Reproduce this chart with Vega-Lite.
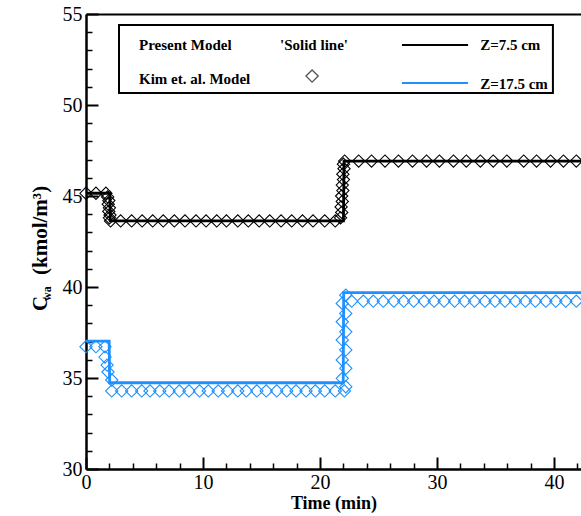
{
  "$schema": "https://vega.github.io/schema/vega-lite/v6.json",
  "autosize": "none",
  "padding": {"left": 86, "top": 14, "right": 0, "bottom": 47},
  "width": 495,
  "height": 455,
  "background": "white",
  "config": {
    "font": "'Liberation Serif', 'Times New Roman', Times, 'DejaVu Serif', serif",
    "view": {"stroke": null},
    "text": {"font": "'Liberation Serif', 'Times New Roman', Times, 'DejaVu Serif', serif"},
    "axis": {"domainColor": "black", "tickColor": "black", "labelColor": "black", "titleColor": "black", "labelFont": "'Liberation Serif', 'Times New Roman', Times, 'DejaVu Serif', serif", "titleFont": "'Liberation Serif', 'Times New Roman', Times, 'DejaVu Serif', serif", "grid": false, "labelFlush": false}
  },
  "datasets": {
    "model": [
      {"series": "Z=7.5 cm", "t": 0, "c": 45.15},
      {"series": "Z=7.5 cm", "t": 2.03, "c": 45.15},
      {"series": "Z=7.5 cm", "t": 2.08, "c": 43.63},
      {"series": "Z=7.5 cm", "t": 22.0, "c": 43.63},
      {"series": "Z=7.5 cm", "t": 22.05, "c": 46.92},
      {"series": "Z=7.5 cm", "t": 42.3, "c": 46.92},
      {"series": "Z=17.5 cm", "t": 0, "c": 37.03},
      {"series": "Z=17.5 cm", "t": 1.98, "c": 37.03},
      {"series": "Z=17.5 cm", "t": 2.02, "c": 34.74},
      {"series": "Z=17.5 cm", "t": 21.98, "c": 34.74},
      {"series": "Z=17.5 cm", "t": 22.02, "c": 39.69},
      {"series": "Z=17.5 cm", "t": 42.3, "c": 39.69}
    ],
    "kim": [
      {"series": "Z=7.5 cm", "t": 0, "c": 45.15},
      {"series": "Z=7.5 cm", "t": 0.85, "c": 45.15},
      {"series": "Z=7.5 cm", "t": 1.7, "c": 45.15},
      {"series": "Z=7.5 cm", "t": 1.85, "c": 44.95},
      {"series": "Z=7.5 cm", "t": 1.95, "c": 44.75},
      {"series": "Z=7.5 cm", "t": 1.9, "c": 44.55},
      {"series": "Z=7.5 cm", "t": 2.0, "c": 44.35},
      {"series": "Z=7.5 cm", "t": 1.95, "c": 44.15},
      {"series": "Z=7.5 cm", "t": 2.05, "c": 43.95},
      {"series": "Z=7.5 cm", "t": 2.0, "c": 43.8},
      {"series": "Z=7.5 cm", "t": 2.1, "c": 43.63},
      {"series": "Z=7.5 cm", "t": 2.96, "c": 43.63},
      {"series": "Z=7.5 cm", "t": 3.9, "c": 43.63},
      {"series": "Z=7.5 cm", "t": 4.8, "c": 43.63},
      {"series": "Z=7.5 cm", "t": 5.7, "c": 43.63},
      {"series": "Z=7.5 cm", "t": 6.6, "c": 43.63},
      {"series": "Z=7.5 cm", "t": 7.55, "c": 43.63},
      {"series": "Z=7.5 cm", "t": 8.46, "c": 43.63},
      {"series": "Z=7.5 cm", "t": 9.4, "c": 43.63},
      {"series": "Z=7.5 cm", "t": 10.26, "c": 43.63},
      {"series": "Z=7.5 cm", "t": 11.17, "c": 43.63},
      {"series": "Z=7.5 cm", "t": 12.0, "c": 43.63},
      {"series": "Z=7.5 cm", "t": 12.97, "c": 43.63},
      {"series": "Z=7.5 cm", "t": 13.87, "c": 43.63},
      {"series": "Z=7.5 cm", "t": 14.8, "c": 43.63},
      {"series": "Z=7.5 cm", "t": 15.7, "c": 43.63},
      {"series": "Z=7.5 cm", "t": 16.67, "c": 43.63},
      {"series": "Z=7.5 cm", "t": 17.58, "c": 43.63},
      {"series": "Z=7.5 cm", "t": 18.5, "c": 43.63},
      {"series": "Z=7.5 cm", "t": 19.4, "c": 43.63},
      {"series": "Z=7.5 cm", "t": 20.4, "c": 43.63},
      {"series": "Z=7.5 cm", "t": 21.3, "c": 43.63},
      {"series": "Z=7.5 cm", "t": 21.75, "c": 43.8},
      {"series": "Z=7.5 cm", "t": 21.85, "c": 44.1},
      {"series": "Z=7.5 cm", "t": 21.8, "c": 44.4},
      {"series": "Z=7.5 cm", "t": 21.9, "c": 44.7},
      {"series": "Z=7.5 cm", "t": 21.85, "c": 45.0},
      {"series": "Z=7.5 cm", "t": 21.95, "c": 45.3},
      {"series": "Z=7.5 cm", "t": 21.9, "c": 45.6},
      {"series": "Z=7.5 cm", "t": 22.0, "c": 45.9},
      {"series": "Z=7.5 cm", "t": 21.95, "c": 46.2},
      {"series": "Z=7.5 cm", "t": 22.05, "c": 46.5},
      {"series": "Z=7.5 cm", "t": 22.0, "c": 46.75},
      {"series": "Z=7.5 cm", "t": 22.1, "c": 46.92},
      {"series": "Z=7.5 cm", "t": 23.3, "c": 46.92},
      {"series": "Z=7.5 cm", "t": 24.4, "c": 46.92},
      {"series": "Z=7.5 cm", "t": 25.55, "c": 46.92},
      {"series": "Z=7.5 cm", "t": 26.7, "c": 46.92},
      {"series": "Z=7.5 cm", "t": 27.9, "c": 46.92},
      {"series": "Z=7.5 cm", "t": 29.1, "c": 46.92},
      {"series": "Z=7.5 cm", "t": 30.2, "c": 46.92},
      {"series": "Z=7.5 cm", "t": 31.4, "c": 46.92},
      {"series": "Z=7.5 cm", "t": 32.5, "c": 46.92},
      {"series": "Z=7.5 cm", "t": 33.7, "c": 46.92},
      {"series": "Z=7.5 cm", "t": 34.8, "c": 46.92},
      {"series": "Z=7.5 cm", "t": 35.96, "c": 46.92},
      {"series": "Z=7.5 cm", "t": 37.4, "c": 46.92},
      {"series": "Z=7.5 cm", "t": 38.5, "c": 46.92},
      {"series": "Z=7.5 cm", "t": 39.7, "c": 46.92},
      {"series": "Z=7.5 cm", "t": 40.8, "c": 46.92},
      {"series": "Z=7.5 cm", "t": 41.9, "c": 46.92},
      {"series": "Z=17.5 cm", "t": 0, "c": 36.72},
      {"series": "Z=17.5 cm", "t": 0.85, "c": 36.72},
      {"series": "Z=17.5 cm", "t": 1.62, "c": 36.72},
      {"series": "Z=17.5 cm", "t": 1.62, "c": 36.15},
      {"series": "Z=17.5 cm", "t": 1.8, "c": 35.71},
      {"series": "Z=17.5 cm", "t": 1.88, "c": 35.33},
      {"series": "Z=17.5 cm", "t": 2.2, "c": 34.89},
      {"series": "Z=17.5 cm", "t": 2.2, "c": 34.29},
      {"series": "Z=17.5 cm", "t": 3.05, "c": 34.29},
      {"series": "Z=17.5 cm", "t": 3.9, "c": 34.29},
      {"series": "Z=17.5 cm", "t": 4.76, "c": 34.29},
      {"series": "Z=17.5 cm", "t": 5.47, "c": 34.29},
      {"series": "Z=17.5 cm", "t": 6.3, "c": 34.29},
      {"series": "Z=17.5 cm", "t": 7.1, "c": 34.29},
      {"series": "Z=17.5 cm", "t": 7.98, "c": 34.29},
      {"series": "Z=17.5 cm", "t": 8.8, "c": 34.29},
      {"series": "Z=17.5 cm", "t": 9.7, "c": 34.29},
      {"series": "Z=17.5 cm", "t": 10.45, "c": 34.29},
      {"series": "Z=17.5 cm", "t": 11.3, "c": 34.29},
      {"series": "Z=17.5 cm", "t": 12.1, "c": 34.29},
      {"series": "Z=17.5 cm", "t": 12.97, "c": 34.29},
      {"series": "Z=17.5 cm", "t": 13.7, "c": 34.29},
      {"series": "Z=17.5 cm", "t": 14.6, "c": 34.29},
      {"series": "Z=17.5 cm", "t": 15.4, "c": 34.29},
      {"series": "Z=17.5 cm", "t": 16.3, "c": 34.29},
      {"series": "Z=17.5 cm", "t": 17.15, "c": 34.29},
      {"series": "Z=17.5 cm", "t": 17.95, "c": 34.29},
      {"series": "Z=17.5 cm", "t": 18.8, "c": 34.29},
      {"series": "Z=17.5 cm", "t": 19.6, "c": 34.29},
      {"series": "Z=17.5 cm", "t": 20.4, "c": 34.29},
      {"series": "Z=17.5 cm", "t": 21.3, "c": 34.29},
      {"series": "Z=17.5 cm", "t": 22.08, "c": 34.29},
      {"series": "Z=17.5 cm", "t": 22.2, "c": 34.52},
      {"series": "Z=17.5 cm", "t": 21.9, "c": 34.98},
      {"series": "Z=17.5 cm", "t": 22.2, "c": 35.53},
      {"series": "Z=17.5 cm", "t": 21.9, "c": 35.99},
      {"series": "Z=17.5 cm", "t": 22.2, "c": 36.54},
      {"series": "Z=17.5 cm", "t": 21.9, "c": 37.09},
      {"series": "Z=17.5 cm", "t": 22.2, "c": 37.54},
      {"series": "Z=17.5 cm", "t": 21.9, "c": 38.09},
      {"series": "Z=17.5 cm", "t": 22.2, "c": 38.55},
      {"series": "Z=17.5 cm", "t": 21.9, "c": 39.1},
      {"series": "Z=17.5 cm", "t": 22.2, "c": 39.55},
      {"series": "Z=17.5 cm", "t": 22.7, "c": 39.22},
      {"series": "Z=17.5 cm", "t": 23.7, "c": 39.22},
      {"series": "Z=17.5 cm", "t": 24.55, "c": 39.22},
      {"series": "Z=17.5 cm", "t": 25.4, "c": 39.22},
      {"series": "Z=17.5 cm", "t": 26.3, "c": 39.22},
      {"series": "Z=17.5 cm", "t": 27.15, "c": 39.22},
      {"series": "Z=17.5 cm", "t": 28.0, "c": 39.22},
      {"series": "Z=17.5 cm", "t": 28.9, "c": 39.22},
      {"series": "Z=17.5 cm", "t": 29.75, "c": 39.22},
      {"series": "Z=17.5 cm", "t": 30.6, "c": 39.22},
      {"series": "Z=17.5 cm", "t": 31.5, "c": 39.22},
      {"series": "Z=17.5 cm", "t": 32.35, "c": 39.22},
      {"series": "Z=17.5 cm", "t": 33.2, "c": 39.22},
      {"series": "Z=17.5 cm", "t": 34.1, "c": 39.22},
      {"series": "Z=17.5 cm", "t": 34.95, "c": 39.22},
      {"series": "Z=17.5 cm", "t": 35.8, "c": 39.22},
      {"series": "Z=17.5 cm", "t": 36.7, "c": 39.22},
      {"series": "Z=17.5 cm", "t": 37.55, "c": 39.22},
      {"series": "Z=17.5 cm", "t": 38.4, "c": 39.22},
      {"series": "Z=17.5 cm", "t": 39.3, "c": 39.22},
      {"series": "Z=17.5 cm", "t": 40.15, "c": 39.22},
      {"series": "Z=17.5 cm", "t": 41.0, "c": 39.22},
      {"series": "Z=17.5 cm", "t": 41.9, "c": 39.22}
    ]
  },
  "resolve": {"axis": {"x": "independent", "y": "independent"}},
  "layer": [
    {
      "data": {"name": "model"},
      "mark": {"type": "line", "strokeWidth": 2.8, "clip": false},
      "encoding": {
        "x": {"field": "t", "type": "quantitative", "scale": {"domain": [0, 42.3], "nice": false, "zero": false},
              "axis": {"orient": "bottom", "values": [0, 10, 20, 30, 40], "tickSize": -12, "tickWidth": 2, "domainWidth": 2.5, "labels": false, "title": null}},
        "y": {"field": "c", "type": "quantitative", "scale": {"domain": [30, 55], "nice": false, "zero": false},
              "axis": {"orient": "left", "values": [30, 35, 40, 45, 50, 55], "tickSize": -12, "tickWidth": 2, "domainWidth": 2.5, "labels": false, "title": null}},
        "color": {"field": "series", "type": "nominal", "scale": {"domain": ["Z=7.5 cm", "Z=17.5 cm"], "range": ["#000000", "#1e90ff"]}, "legend": null},
        "detail": {"field": "series"}
      }
    },
    {
      "data": {"name": "kim"},
      "mark": {"type": "point", "shape": "diamond", "filled": false, "size": 150, "strokeWidth": 1.1, "opacity": 1, "clip": false},
      "encoding": {
        "x": {"field": "t", "type": "quantitative",
              "axis": {"orient": "bottom", "values": [2, 4, 6, 8, 12, 14, 16, 18, 22, 24, 26, 28, 32, 34, 36, 38, 42], "tickSize": -6, "tickWidth": 1.5, "domain": false, "labels": false, "title": null}},
        "y": {"field": "c", "type": "quantitative",
              "axis": {"orient": "left", "values": [31, 32, 33, 34, 36, 37, 38, 39, 41, 42, 43, 44, 46, 47, 48, 49, 51, 52, 53, 54], "tickSize": -6, "tickWidth": 1.5, "domain": false, "labels": false, "title": null}},
        "color": {"field": "series", "type": "nominal", "legend": null}
      }
    },
    {
      "data": {"name": "model"},
      "mark": {"type": "point", "opacity": 0},
      "encoding": {
        "x": {"field": "t", "type": "quantitative",
              "axis": {"orient": "bottom", "values": [0, 10, 20, 30, 40], "ticks": false, "domain": false, "labelFlush": false, "labelPadding": 3, "labelFontSize": 20, "title": "Time (min)", "titleFontSize": 18, "titleFontWeight": "bold", "titlePadding": 2}},
        "y": {"field": "c", "type": "quantitative",
              "axis": {"orient": "left", "values": [30, 35, 40, 45, 50, 55], "ticks": false, "domain": false, "labelFlush": false, "labelPadding": 4, "labelFontSize": 20, "title": null}}
      }
    },
    {
      "data": {"name": "model"},
      "mark": {"type": "point", "opacity": 0},
      "encoding": {
        "x": {"field": "t", "type": "quantitative",
              "axis": {"orient": "top", "ticks": false, "labels": false, "domainWidth": 2, "title": null}},
        "y": {"field": "c", "type": "quantitative", "axis": null}
      }
    },
    {
      "data": {"values": [{}]},
      "mark": {"type": "rect", "fill": "white", "fillOpacity": 0, "stroke": "black", "strokeWidth": 2},
      "encoding": {
        "x": {"datum": 2.82, "type": "quantitative", "axis": null},
        "x2": {"datum": 39.9},
        "y": {"datum": 54.4, "type": "quantitative", "axis": null},
        "y2": {"datum": 50.66}
      }
    },
    {
      "data": {"values": [{}]},
      "mark": {"type": "rule", "color": "black", "strokeWidth": 2},
      "encoding": {
        "x": {"datum": 27.0, "type": "quantitative", "axis": null},
        "x2": {"datum": 32.65},
        "y": {"datum": 53.3, "type": "quantitative", "axis": null}
      }
    },
    {
      "data": {"values": [{}]},
      "mark": {"type": "rule", "color": "#1e90ff", "strokeWidth": 2},
      "encoding": {
        "x": {"datum": 27.0, "type": "quantitative", "axis": null},
        "x2": {"datum": 32.65},
        "y": {"datum": 51.21, "type": "quantitative", "axis": null}
      }
    },
    {
      "data": {"values": [{}]},
      "mark": {"type": "point", "shape": "diamond", "filled": false, "size": 150, "strokeWidth": 1.3, "color": "#555555", "opacity": 1},
      "encoding": {
        "x": {"datum": 19.32, "type": "quantitative", "axis": null},
        "y": {"datum": 51.59, "type": "quantitative", "axis": null}
      }
    },
    {
      "data": {"values": [{}]},
      "mark": {"type": "text", "text": "Present Model", "fontWeight": "bold", "fontSize": 15, "align": "left", "baseline": "middle", "color": "black"},
      "encoding": {
        "x": {"datum": 4.53, "type": "quantitative", "axis": null},
        "y": {"datum": 53.3, "type": "quantitative", "axis": null}
      }
    },
    {
      "data": {"values": [{}]},
      "mark": {"type": "text", "text": "'Solid line'", "fontWeight": "bold", "fontSize": 15, "align": "left", "baseline": "middle", "color": "black"},
      "encoding": {
        "x": {"datum": 16.58, "type": "quantitative", "axis": null},
        "y": {"datum": 53.3, "type": "quantitative", "axis": null}
      }
    },
    {
      "data": {"values": [{}]},
      "mark": {"type": "text", "text": "Z=7.5 cm", "fontWeight": "bold", "fontSize": 15, "align": "left", "baseline": "middle", "color": "black"},
      "encoding": {
        "x": {"datum": 33.68, "type": "quantitative", "axis": null},
        "y": {"datum": 53.3, "type": "quantitative", "axis": null}
      }
    },
    {
      "data": {"values": [{}]},
      "mark": {"type": "text", "text": "Kim et. al. Model", "fontWeight": "bold", "fontSize": 15, "align": "left", "baseline": "middle", "color": "black"},
      "encoding": {
        "x": {"datum": 4.53, "type": "quantitative", "axis": null},
        "y": {"datum": 51.43, "type": "quantitative", "axis": null}
      }
    },
    {
      "data": {"values": [{}]},
      "mark": {"type": "text", "text": "Z=17.5 cm", "fontWeight": "bold", "fontSize": 15, "align": "left", "baseline": "middle", "color": "black"},
      "encoding": {
        "x": {"datum": 33.68, "type": "quantitative", "axis": null},
        "y": {"datum": 51.15, "type": "quantitative", "axis": null}
      }
    },
    {
      "data": {"values": [{}]},
      "mark": {"type": "text", "text": "C", "fontWeight": "bold", "fontSize": 21, "align": "left", "baseline": "alphabetic", "angle": 270, "color": "black"},
      "encoding": {
        "x": {"datum": -3.33, "type": "quantitative", "axis": null},
        "y": {"datum": 38.68, "type": "quantitative", "axis": null}
      }
    },
    {
      "data": {"values": [{}]},
      "mark": {"type": "text", "text": "wa", "fontWeight": "bold", "fontSize": 12, "align": "left", "baseline": "alphabetic", "angle": 270, "color": "black"},
      "encoding": {
        "x": {"datum": -3.0, "type": "quantitative", "axis": null},
        "y": {"datum": 39.23, "type": "quantitative", "axis": null}
      }
    },
    {
      "data": {"values": [{}]},
      "mark": {"type": "text", "text": "(kmol/m³)", "fontWeight": "bold", "fontSize": 21, "align": "left", "baseline": "alphabetic", "angle": 270, "color": "black"},
      "encoding": {
        "x": {"datum": -3.33, "type": "quantitative", "axis": null},
        "y": {"datum": 40.66, "type": "quantitative", "axis": null}
      }
    }
  ]
}
